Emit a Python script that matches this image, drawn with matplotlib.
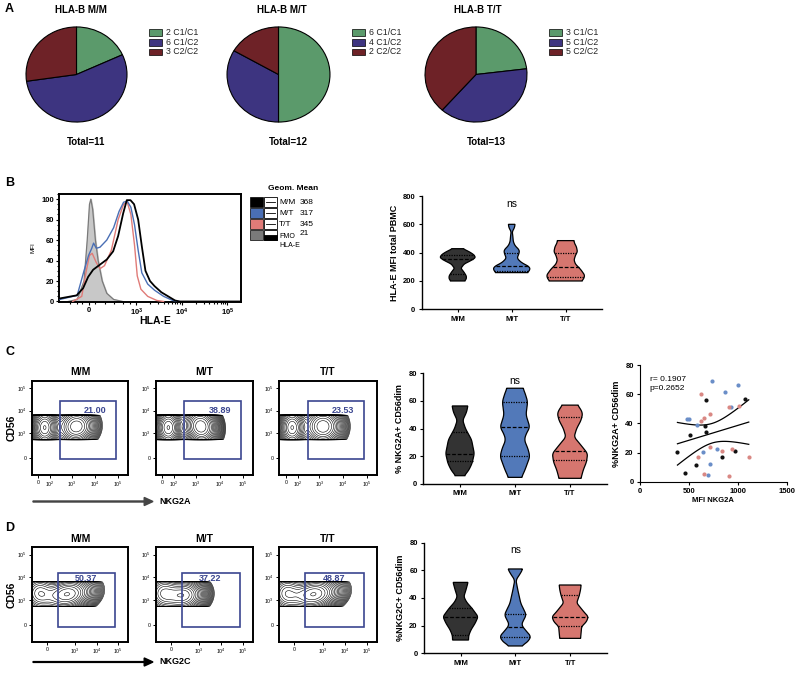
import numpy as np
import matplotlib
matplotlib.use('Agg')
import matplotlib.pyplot as plt
from matplotlib.patches import Rectangle

plt.rcParams['font.family'] = ['Liberation Sans', 'DejaVu Sans']
plt.rcParams['mathtext.default'] = 'regular'

W, H = 800, 674

# ---------------- data ----------------
# A: KIR ligand groups per HLA-B genotype
pie_titles = ['HLA-B M/M', 'HLA-B M/T', 'HLA-B T/T']
pie_cats = ['C1/C1', 'C1/C2', 'C2/C2']
pie_counts = [[2, 6, 3], [6, 4, 2], [3, 5, 5]]
pie_colors = ['#5b9a6b', '#3d3480', '#6e2227']

# B: HLA-E histograms (x in decade units of the biexponential axis, y = % of max)
hist_mm_x = [1.32, 1.69, 1.83, 1.94, 2.05, 2.2, 2.35, 2.49, 2.6, 2.71, 2.79, 2.87, 2.95, 3.04, 3.12, 3.2, 3.3, 3.4, 3.55, 3.7, 3.85, 3.95, 5.3]
hist_mm_y = [3, 6, 13, 24, 31, 36, 41, 49, 64, 86, 99, 99, 95, 80, 54, 30, 20, 15, 9, 5, 1, 0, 0]
hist_mt_x = [1.32, 1.7, 1.85, 1.95, 2.02, 2.06, 2.12, 2.2, 2.35, 2.5, 2.62, 2.72, 2.8, 2.88, 2.96, 3.04, 3.12, 3.25, 3.4, 3.6, 3.8, 3.95]
hist_mt_y = [2, 6, 30, 45, 52, 57, 52, 53, 60, 72, 88, 97, 98, 92, 75, 50, 28, 17, 11, 5, 1, 0]
hist_tt_x = [1.6, 1.8, 1.9, 1.97, 2.03, 2.12, 2.2, 2.3, 2.45, 2.6, 2.72, 2.8, 2.88, 2.96, 3.02, 3.1, 3.25, 3.45, 3.6]
hist_tt_y = [0, 5, 30, 45, 47, 38, 32, 35, 50, 80, 95, 97, 85, 55, 25, 12, 5, 1, 0]
hist_fmo_x = [1.5, 1.7, 1.85, 1.92, 1.97, 2.0, 2.04, 2.1, 2.16, 2.25, 2.35, 2.5, 2.7]
hist_fmo_y = [0, 2, 20, 60, 95, 100, 90, 60, 40, 20, 8, 2, 0]
hist_labels = ['M/M', 'M/T', 'T/T', 'FMO']
geo_mean = [368, 317, 345, 21]

groups = ['M/M', 'M/T', 'T/T']
group_colors = ['#333333', '#5279b9', '#d6766f']

# violins: (levels, half widths, [q1, median, q3])
hlae_mm = ([200, 215, 235, 260, 290, 320, 345, 365, 385, 405, 420, 428],
           [0.13, 0.16, 0.16, 0.12, 0.06, 0.12, 0.25, 0.33, 0.3, 0.22, 0.14, 0.1], [250, 353, 381])
hlae_mt = ([259, 278, 300, 330, 360, 400, 419, 450, 478, 520, 548, 575, 600],
           [0.29, 0.34, 0.33, 0.18, 0.1, 0.14, 0.14, 0.06, 0.03, 0.02, 0.01, 0.05, 0.062], [273, 305, 395])
hlae_tt = ([200, 220, 242, 280, 320, 348, 380, 407, 440, 470, 485],
           [0.3, 0.34, 0.35, 0.28, 0.18, 0.155, 0.18, 0.217, 0.2, 0.16, 0.155], [230, 297, 395])

nkg2a_mm = ([6, 10, 15, 22, 32, 40, 46, 52, 56.4],
            [0.08, 0.16, 0.22, 0.26, 0.21, 0.1, 0.05, 0.12, 0.143], [16.6, 21.4, 37.8])
nkg2a_mt = ([4.8, 10, 19.8, 25, 31.8, 36, 41, 50, 59.5, 66, 69.2],
            [0.12, 0.18, 0.27, 0.24, 0.17, 0.2, 0.27, 0.2, 0.23, 0.18, 0.145], [20.2, 41, 59])
nkg2a_tt = ([4.1, 10, 16, 22, 28, 34, 40, 46, 51, 55, 57],
            [0.2, 0.24, 0.3, 0.32, 0.2, 0.075, 0.12, 0.2, 0.23, 0.18, 0.136], [17.3, 24, 48.6])

nkg2c_mm = ([9.6, 13, 16.9, 22, 26.5, 32.5, 37, 41, 46, 51.3],
            [0.145, 0.15, 0.19, 0.27, 0.32, 0.21, 0.11, 0.06, 0.1, 0.136], [13.3, 26, 32.5])
nkg2c_mt = ([5.3, 7.2, 12, 16, 20.5, 24, 27.7, 32, 36, 45.8, 53, 57, 61],
            [0.1, 0.2, 0.29, 0.2, 0.11, 0.15, 0.2, 0.15, 0.1, 0.045, 0.01, 0.08, 0.136], [11.6, 19.3, 28.2])
nkg2c_tt = ([10.8, 15, 19.3, 23, 26.5, 30, 36.4, 42, 46, 49.4],
            [0.19, 0.2, 0.21, 0.3, 0.33, 0.25, 0.12, 0.167, 0.19, 0.2], [20, 26.5, 42])

# C scatter: MFI NKG2A vs %NKG2A+ CD56dim
mfi_mm = [383, 458, 515, 569, 671, 664, 671, 841, 976, 1078]
pct_mm = [20.3, 6.2, 32, 11.4, 56, 38.2, 34, 16.7, 21.3, 56.7]
mfi_mt = [481, 502, 586, 644, 739, 719, 695, 786, 868, 932, 997]
pct_mt = [43, 43, 38.9, 20.3, 69, 11.9, 4.8, 22.4, 61.3, 51, 66.3]
mfi_tt = [624, 627, 651, 712, 712, 597, 834, 908, 908, 942, 1017, 1112, 658]
pct_tt = [59.9, 41.6, 43.9, 46.4, 24, 17.1, 20.8, 51, 3.9, 22.6, 52.1, 17.1, 5]
scatter_colors = ['#111111', '#6a8ec8', '#d98884']

# flow plots: gate frequencies and population blobs (cx, cy, sx, sy, angle, weight)
nkg2a_gate = ['21.00', '38.89', '23.53']
nkg2c_gate = ['50.37', '37.22', '48.87']
nkg2a_blobs = [
    [(1.84, 3.25, 0.28, 0.42, 0, 1.0), (3.2, 3.3, 0.42, 0.4, 25, 0.45)],
    [(1.82, 3.25, 0.28, 0.42, 0, 1.0), (3.2, 3.3, 0.36, 0.42, 15, 0.8)],
    [(1.84, 3.25, 0.28, 0.42, 0, 1.0), (3.15, 3.3, 0.42, 0.42, 25, 0.55)],
]
nkg2c_blobs = [
    [(1.6, 3.3, 0.35, 0.4, 0, 0.6), (2.8, 3.25, 0.55, 0.36, 12, 1.0)],
    [(1.6, 3.3, 0.35, 0.4, 0, 0.8), (2.45, 3.2, 0.45, 0.36, 10, 1.0)],
    [(1.6, 3.3, 0.35, 0.4, 0, 0.6), (2.75, 3.25, 0.55, 0.36, 12, 1.0)],
]


# ---------------- helpers ----------------
fig = plt.figure(figsize=(W / 100, H / 100), dpi=100)


def ax_px(l, t, r, b):
    return fig.add_axes([l / W, 1 - b / H, (r - l) / W, (b - t) / H])


def ftext(x, y, s, **kw):
    fig.text(x / W, 1 - y / H, s, **kw)


def frect(l, t, w, h, **kw):
    fig.add_artist(Rectangle((l / W, 1 - (t + h) / H), w / W, h / H,
                             transform=fig.transFigure, **kw))


def violin(ax, c, prof, color):
    lv, hw, q = prof
    yy = np.linspace(lv[0], lv[-1], 200)
    ww = np.interp(yy, lv, hw)
    k = 15
    ww = np.convolve(np.pad(ww, k // 2, mode='edge'), np.ones(k) / k, mode='valid')
    xs = np.concatenate([c - ww, (c + ww)[::-1]])
    ys = np.concatenate([yy, yy[::-1]])
    ax.fill(xs, ys, fc=color, ec='black', lw=0.9, zorder=2)
    for val, ls in zip(q, [(0, (1, 1)), (0, (3, 1.5)), (0, (1, 1))]):
        h = np.interp(val, yy, ww)
        ax.plot([c - h, c + h], [val, val], color='black', ls=ls, lw=0.9, zorder=3)


def violin_axes(ax, profs, ymax, step, ylabel):
    for i, p in enumerate(profs):
        violin(ax, i, p, group_colors[i])
    ax.set_xlim(-0.667, 2.667)
    ax.set_ylim(0, ymax)
    ax.set_yticks(np.arange(0, ymax + 1, step))
    ax.set_xticks(range(3))
    ax.set_xticklabels(groups)
    for s in ['top', 'right']:
        ax.spines[s].set_visible(False)
    for s in ['left', 'bottom']:
        ax.spines[s].set_linewidth(1.0)
    ax.tick_params(labelsize=5.5, length=2.5, width=0.8, pad=2)
    for lab in ax.get_xticklabels() + ax.get_yticklabels():
        lab.set_fontweight('bold')
    ax.set_ylabel(ylabel, fontsize=6.5, fontweight='bold', labelpad=3)
    ax.text(1, ymax * 0.93, 'ns', ha='center', va='center', fontsize=7.5)


def flow_plot(ax, blobs, pct, title, xticks, xlabels, gate):
    gx = np.linspace(1.283, 5.43, 320)
    gy = np.linspace(1.155, 5.32, 320)
    X, Y = np.meshgrid(gx, gy)
    Z = np.zeros_like(X)
    for cx, cy, sx, sy, ang, w in blobs:
        a = np.radians(ang)
        u = (X - cx) * np.cos(a) + (Y - cy) * np.sin(a)
        v = -(X - cx) * np.sin(a) + (Y - cy) * np.cos(a)
        Z += w * np.exp(-0.5 * ((u / sx) ** 2 + (v / sy) ** 2))
    Z[(Y < 2.72) | (Y > 3.8)] = 0
    levels = Z.max() * np.geomspace(0.012, 0.98, 24)
    ax.contour(X, Y, Z, levels=levels, colors='black', linewidths=0.4)
    ax.add_patch(Rectangle((gate[0], gate[1]), gate[2] - gate[0], gate[3] - gate[1],
                           fill=False, ec='#3b4690', lw=1.2, zorder=4))
    ax.text(gate[4], gate[5], pct, color='#3b4690', fontsize=6.5, fontweight='bold',
            ha='center', va='center', zorder=5)
    ax.set_xlim(1.283, 5.43)
    ax.set_ylim(1.155, 5.32)
    ax.set_xticks(xticks)
    ax.set_xticklabels(xlabels)
    ax.set_yticks([1.89, 3, 4, 5])
    ax.set_yticklabels(['0', '$10^3$', '$10^4$', '$10^5$'])
    ax.tick_params(labelsize=3.8, length=2, width=0.7, pad=1.5)
    for s in ax.spines.values():
        s.set_linewidth(1.4)
    ax.set_title(title, fontsize=7.5, fontweight='bold', pad=4)


# ---------------- A: pies ----------------
pie_boxes = [(25, 26, 128, 123), (226, 26, 331, 123), (424, 26, 528, 123)]
leg_x = [149, 352, 549]
total_x = [86, 288, 486]
title_x = [81, 282, 478]
for i in range(3):
    ax = ax_px(*pie_boxes[i])
    ax.pie(pie_counts[i], colors=pie_colors, startangle=90, counterclock=False,
           wedgeprops=dict(edgecolor='black', linewidth=0.8))
    ax.set_aspect('auto')
    ax.set_xlim(-1.02, 1.02)
    ax.set_ylim(-1.02, 1.02)
    ftext(title_x[i], 10, pie_titles[i], ha='center', va='center', fontsize=7, fontweight='bold')
    ftext(total_x[i], 142, 'Total=%d' % sum(pie_counts[i]), ha='center', va='center',
          fontsize=7, fontweight='bold')
    for j in range(3):
        frect(leg_x[i], 29.3 + 9.6 * j, 12.7, 6.7, fc=pie_colors[j], ec='black', lw=0.5)
        ftext(leg_x[i] + 17, 32.7 + 9.6 * j, '%d %s' % (pie_counts[i][j], pie_cats[j]),
              ha='left', va='center', fontsize=6.3, color='#222222')
ftext(5, 9, 'A', fontsize=9, fontweight='bold', va='center')

# ---------------- B: histogram ----------------
ftext(5, 183, 'B', fontsize=9, fontweight='bold', va='center')
ax = ax_px(59, 194, 241, 302)
ax.fill_between(hist_fmo_x, hist_fmo_y, color='#c8c8c8', zorder=1)
ax.plot(hist_fmo_x, hist_fmo_y, color='#7a7a7a', lw=0.9, zorder=2)
ax.plot(hist_tt_x, hist_tt_y, color='#e07b78', lw=1.0, zorder=3)
ax.plot(hist_mt_x, hist_mt_y, color='#4a6fb5', lw=1.0, zorder=4)
ax.plot(hist_mm_x, hist_mm_y, color='black', lw=1.3, zorder=5)
ax.set_xlim(1.3, 5.3)
ax.set_ylim(-0.5, 105)
ax.set_yticks(range(0, 101, 20))
ax.set_xticks([1.96, 3, 4, 5])
ax.set_xticklabels(['0', '$10^3$', '$10^4$', '$10^5$'])
ax.set_xticks([1.55, 1.7, 1.8, 2.1, 2.3, 2.5, 2.7, 2.85, 3.3, 3.48, 3.6, 3.7, 3.78, 3.85, 3.9, 3.95,
               4.3, 4.48, 4.6, 4.7, 4.78, 4.85, 4.9, 4.95], minor=True)
ax.yaxis.set_minor_locator(matplotlib.ticker.MultipleLocator(5))
ax.tick_params(which='both', labelsize=5.5, length=2.5, width=0.8, pad=1)
ax.tick_params(which='minor', length=1.5)
for lab in ax.get_xticklabels() + ax.get_yticklabels():
    lab.set_fontweight('bold')
for s in ax.spines.values():
    s.set_linewidth(1.4)
ax.set_ylabel('MFI', fontsize=4.5, labelpad=4)
ftext(155, 321, 'HLA-E', ha='center', va='center', fontsize=7.5, fontweight='bold')

# B legend
sw_colors = ['black', '#4a6fb5', '#e07b78', '#7a7a7a']
ftext(293, 189, 'Geom. Mean', ha='center', va='center', fontsize=6, fontweight='bold')
for j in range(4):
    top = 197.3 + 11 * j
    frect(250, top, 13, 10, fc=sw_colors[j], ec='black', lw=0.5)
    frect(264, top, 13, 10, fc='white', ec='black', lw=0.6)
    if j == 3:
        frect(264, top + 5, 13, 5, fc='black', ec='black', lw=0.6)
    else:
        fig.add_artist(plt.Line2D([266 / W, 275 / W], [1 - (top + 5) / H] * 2,
                                  transform=fig.transFigure, color='black', lw=0.6))
    if j < 3:
        ftext(279, top + 5, hist_labels[j], fontsize=6, va='center')
        ftext(300, top + 5, str(geo_mean[j]), fontsize=6, va='center')
    else:
        ftext(279, top + 6.5, 'FMO', fontsize=5, va='center')
        ftext(300, top + 3.5, str(geo_mean[j]), fontsize=6, va='center')
        ftext(279, top + 15, 'HLA-E', fontsize=5, va='center')

# B violin
ax = ax_px(421.7, 196, 601.7, 309.3)
violin_axes(ax, [hlae_mm, hlae_mt, hlae_tt], 800, 200, 'HLA-E MFI total PBMC')

# ---------------- C ----------------
ftext(5, 352, 'C', fontsize=9, fontweight='bold', va='center')
flow_x = [(31.7, 128.3), (155.7, 253.3), (279, 376.7)]
gate_a = (2.5, 1.86, 4.9, 4.44, 4.0, 4.02)
for i in range(3):
    ax = ax_px(flow_x[i][0], 380.7, flow_x[i][1], 475)
    flow_plot(ax, nkg2a_blobs[i], nkg2a_gate[i], groups[i], [1.57, 2.07, 3, 4, 5],
              ['0', '$10^2$', '$10^3$', '$10^4$', '$10^5$'], gate_a)
    if i == 0:
        ax.set_ylabel('CD56', fontsize=7.5, fontweight='bold', labelpad=0)
fig.add_artist(matplotlib.patches.FancyArrow(33 / W, 1 - 501.5 / H, 120 / W, 0, width=0.0015,
                                             head_width=0.012, head_length=0.011,
                                             length_includes_head=True, color='#444444',
                                             transform=fig.transFigure))
ftext(159, 501.5, 'NKG2A', fontsize=6.5, fontweight='bold', va='center')

ax = ax_px(423.3, 373.3, 606.7, 484)
violin_axes(ax, [nkg2a_mm, nkg2a_mt, nkg2a_tt], 80, 20, '% NKG2A+ CD56dim')

# scatter
ax = ax_px(640, 365, 786.7, 481.7)
for xs, ys, col in zip([mfi_mm, mfi_mt, mfi_tt], [pct_mm, pct_mt, pct_tt], scatter_colors):
    ax.scatter(xs, ys, s=9, color=col, zorder=3, linewidths=0)
allx = np.array(mfi_mm + mfi_mt + mfi_tt, dtype=float)
ally = np.array(pct_mm + pct_mt + pct_tt, dtype=float)
slope, icpt = np.polyfit(allx, ally, 1)
n = len(allx)
resid = ally - (slope * allx + icpt)
s_err = np.sqrt(np.sum(resid ** 2) / (n - 2))
sxx = np.sum((allx - allx.mean()) ** 2)
xf = np.linspace(allx.min(), allx.max(), 100)
yf = slope * xf + icpt
ci = 2.03 * s_err * np.sqrt(1 / n + (xf - allx.mean()) ** 2 / sxx)
ax.plot(xf, yf, color='black', lw=0.9)
ax.plot(xf, yf + ci, color='black', lw=0.9)
ax.plot(xf, yf - ci, color='black', lw=0.9)
ax.set_xlim(0, 1500)
ax.set_ylim(0, 80)
ax.set_xticks([0, 500, 1000, 1500])
ax.set_yticks(range(0, 81, 20))
for s in ['top', 'right']:
    ax.spines[s].set_visible(False)
ax.tick_params(labelsize=5.5, length=2.5, width=0.8, pad=2)
for lab in ax.get_xticklabels() + ax.get_yticklabels():
    lab.set_fontweight('bold')
ax.set_ylabel('%NKG2A+ CD56dim', fontsize=6.5, fontweight='bold', labelpad=3)
ax.set_xlabel('MFI NKG2A', fontsize=5.5, fontweight='bold', labelpad=1.5)
ax.text(100, 67, 'r= 0.1907\np=0.2652', fontsize=6, va='center', linespacing=1.3)

# ---------------- D ----------------
ftext(5, 528, 'D', fontsize=9, fontweight='bold', va='center')
gate_c = (2.4, 1.81, 4.87, 4.2, 3.6, 3.95)
for i in range(3):
    ax = ax_px(flow_x[i][0], 547.3, flow_x[i][1], 641.7)
    flow_plot(ax, nkg2c_blobs[i], nkg2c_gate[i], groups[i], [1.93, 3.14, 4.07, 5.0],
              ['0', '$10^3$', '$10^4$', '$10^5$'], gate_c)
    if i == 0:
        ax.set_ylabel('CD56', fontsize=7.5, fontweight='bold', labelpad=0)
fig.add_artist(matplotlib.patches.FancyArrow(33 / W, 1 - 662 / H, 120 / W, 0, width=0.0012,
                                             head_width=0.012, head_length=0.011,
                                             length_includes_head=True, color='black',
                                             transform=fig.transFigure))
ftext(159, 662, 'NKG2C', fontsize=6.5, fontweight='bold', va='center')

ax = ax_px(424, 542.7, 606.7, 653.3)
violin_axes(ax, [nkg2c_mm, nkg2c_mt, nkg2c_tt], 80, 20, '%NKG2C+ CD56dim')

fig.savefig('out.png', dpi=100)
